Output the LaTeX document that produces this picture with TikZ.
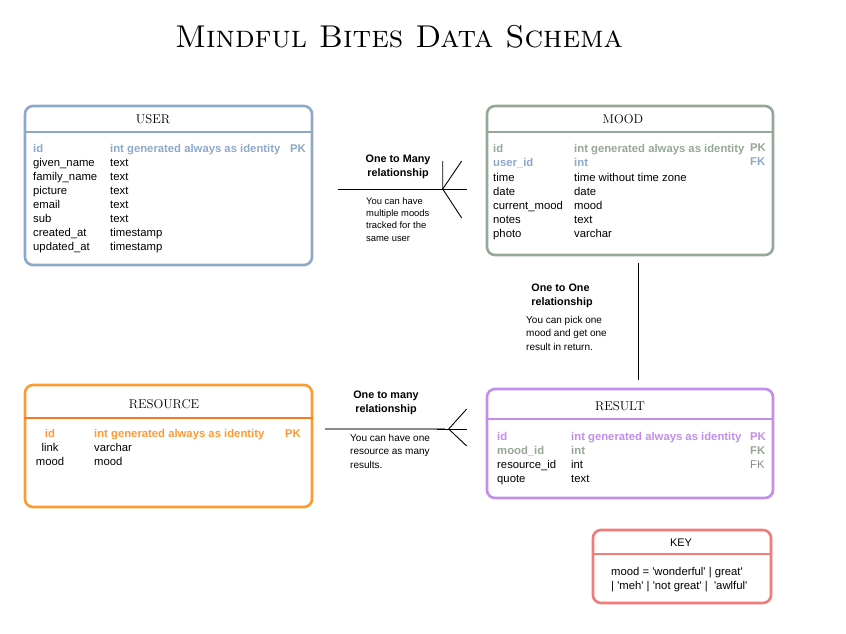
\documentclass[tikz,border=0pt]{standalone}
\usepackage{fontspec}
\setsansfont{Liberation Sans}
\usepackage{tikz}
\usetikzlibrary{calc}
\definecolor{userc}{HTML}{8EA8C8}
\definecolor{moodc}{HTML}{96A896}
\definecolor{resc}{HTML}{FF9A33}
\definecolor{resline}{HTML}{F47B20}
\definecolor{resultc}{HTML}{C28EEA}
\definecolor{keyc}{HTML}{F27A7A}
\definecolor{fkgray}{HTML}{8A8A8A}
\newcommand{\sq}{\textquotesingle}
\tikzset{
  tbl/.style={draw=#1, line width=2.6pt, rounded corners=8pt, fill=white, inner sep=0},
  tblhead/.style={inner sep=0, font=\rmfamily\fontsize{12.8}{13}\selectfont},
  fld/.style={anchor=west, inner sep=0, text height=10.6pt, text depth=1.2pt,
    font=\sffamily\fontsize{11.3}{14}\selectfont},
  key/.style={fld, font=\sffamily\bfseries\fontsize{11.3}{14}\selectfont, text=#1},
  relhead/.style={align=center, inner sep=0, font=\sffamily\bfseries\fontsize{10.8}{13.5}\selectfont},
  note/.style={align=left, anchor=north west, inner sep=0, font=\sffamily\fontsize{9.4}{12.4}\selectfont}
}
\begin{document}
\begin{tikzpicture}[x=1pt,y=-1pt]
\useasboundingbox (0,0) rectangle (846,633);

% Title
\node[inner sep=0, font=\rmfamily\scshape\fontsize{31.5}{32}\selectfont] (title) at (399,37) {Mindful Bites Data Schema};

% USER table
\node[tbl=userc, minimum width=287, minimum height=159] (user) at (168.5,185.5) {};
\draw[userc, line width=2pt] (user.west |- 0,132) -- (user.east |- 0,132);
\node[tblhead] (userhead) at (153,119) {USER};
\node[key=userc] at (33,148) {id};
\node[key=userc] at (110,148) {int generated always as identity};
\node[key=userc] at (290,148) {PK};
\foreach \n/\t [count=\i] in {given\_name/text, family\_name/text, picture/text, email/text,
    sub/text, created\_at/timestamp, updated\_at/timestamp}
{
  \node[fld] at (33,148+14*\i) {\n};
  \node[fld] at (110,148+14*\i) {\t};
}

% MOOD table
\node[tbl=moodc, minimum width=286, minimum height=149] (mood) at (630,180.5) {};
\draw[moodc, line width=2pt] (mood.west |- 0,132) -- (mood.east |- 0,132);
\node[tblhead] (moodhead) at (623,119) {MOOD};
\node[key=moodc] at (493,148) {id};
\node[key=moodc] at (574,148) {int generated always as identity};
\node[key=moodc] at (750,147) {PK};
\node[key=userc] at (493,162) {user\_id};
\node[key=userc] at (574,162) {int};
\node[key=userc] at (750,161) {FK};
\foreach \n/\t [count=\i from 2] in {time/time without time zone, date/date,
    current\_mood/mood, notes/text, photo/varchar}
{
  \node[fld] at (493,149+14*\i) {\n};
  \node[fld] at (574,149+14*\i) {\t};
}

% RESOURCE table
\node[tbl=resc, minimum width=287, minimum height=122] (resource) at (168.5,446) {};
\draw[resline, line width=2pt] (resource.west |- 0,418) -- (resource.east |- 0,418);
\node[tblhead] (reshead) at (164,404) {RESOURCE};
\node[key=resc, anchor=center] at (50,433) {id};
\node[key=resc] at (94,433) {int generated always as identity};
\node[key=resc] at (285,433) {PK};
\node[fld, anchor=center] at (50,447) {link};
\node[fld] at (94,447) {varchar};
\node[fld, anchor=center] at (50,461) {mood};
\node[fld] at (94,461) {mood};

% RESULT table
\node[tbl=resultc, minimum width=286, minimum height=109] (result) at (630,443.5) {};
\draw[resultc, line width=2pt] (result.west |- 0,419) -- (result.east |- 0,419);
\node[tblhead] (resulthead) at (620,406) {RESULT};
\node[key=resultc] at (497,436) {id};
\node[key=resultc] at (571,436) {int generated always as identity};
\node[key=resultc] at (750,436) {PK};
\node[key=moodc] at (497,450) {mood\_id};
\node[key=moodc] at (571,450) {int};
\node[key=moodc] at (750,450) {FK};
\node[fld] at (497,464) {resource\_id};
\node[fld] at (571,464) {int};
\node[fld, text=fkgray] at (750,464) {FK};
\node[fld] at (497,478) {quote};
\node[fld] at (571,478) {text};

% KEY table
\node[tbl=keyc, minimum width=178, minimum height=73] (keybox) at (682,566.5) {};
\draw[keyc, line width=2pt] (keybox.west |- 0,554) -- (keybox.east |- 0,554);
\node[inner sep=0, font=\sffamily\fontsize{11}{12}\selectfont] (keyhead) at (681,543) {KEY};
\node[fld] (keytext) at (611,571) {mood = \sq wonderful\sq\ | great\sq};
\node[fld] at (611,585) {| \sq meh\sq\ | \sq not great\sq\ | \ \sq awlful\sq};

% One to many: user -> mood
\node[relhead] (rel1) at (398,167) {One to Many\\relationship};
\node[note] (note1) at (366,197) {You can have\\multiple moods\\tracked for the\\same user};
\coordinate (u1) at ($(user.east |- 0,189)+(25,0)$);
\coordinate (m1) at ($(mood.west |- 0,189)+(-19,0)$);
\draw[line width=0.9pt] (u1) -- (m1);
\draw[line width=0.9pt] ($(m1)+(-24,-28)$) -- ($(m1)+(-24,0)$) -- ($(m1)+(-5,29)$);
\draw[line width=0.9pt] ($(m1)+(-24,0)$) -- ($(m1)+(-5,-28)$);

% One to one: mood -> result
\node[relhead, align=left] (rel2) at (562,296) {One to One\\relationship};
\node[note, font=\sffamily\fontsize{10}{13.5}\selectfont] (note2) at (526,316) {You can pick one\\mood and get one\\result in return.};
\draw[line width=1pt] ($(mood.south)+(8,7)$) -- ($(result.north)+(8,-8)$);

% One to many: resource -> result
\node[relhead] (rel3) at (386,403) {One to many\\relationship};
\node[note, font=\sffamily\fontsize{10}{13.5}\selectfont] (note3) at (350,434) {You can have one\\resource as many\\results.};
\coordinate (r1) at ($(resource.east |- 0,429)+(12,0)$);
\coordinate (s1) at ($(result.west |- 0,429)+(-19,0)$);
\draw[fkgray, line width=1.6pt] (r1) -- ($(s1)+(-22,0)$);
\draw[line width=0.9pt] ($(s1)+(-30,0)$) -- (s1);
\draw[line width=0.9pt] ($(s1)+(0,-20)$) -- ($(s1)+(-18,0)$) -- ($(s1)+(0,17)$);
\end{tikzpicture}
\end{document}
